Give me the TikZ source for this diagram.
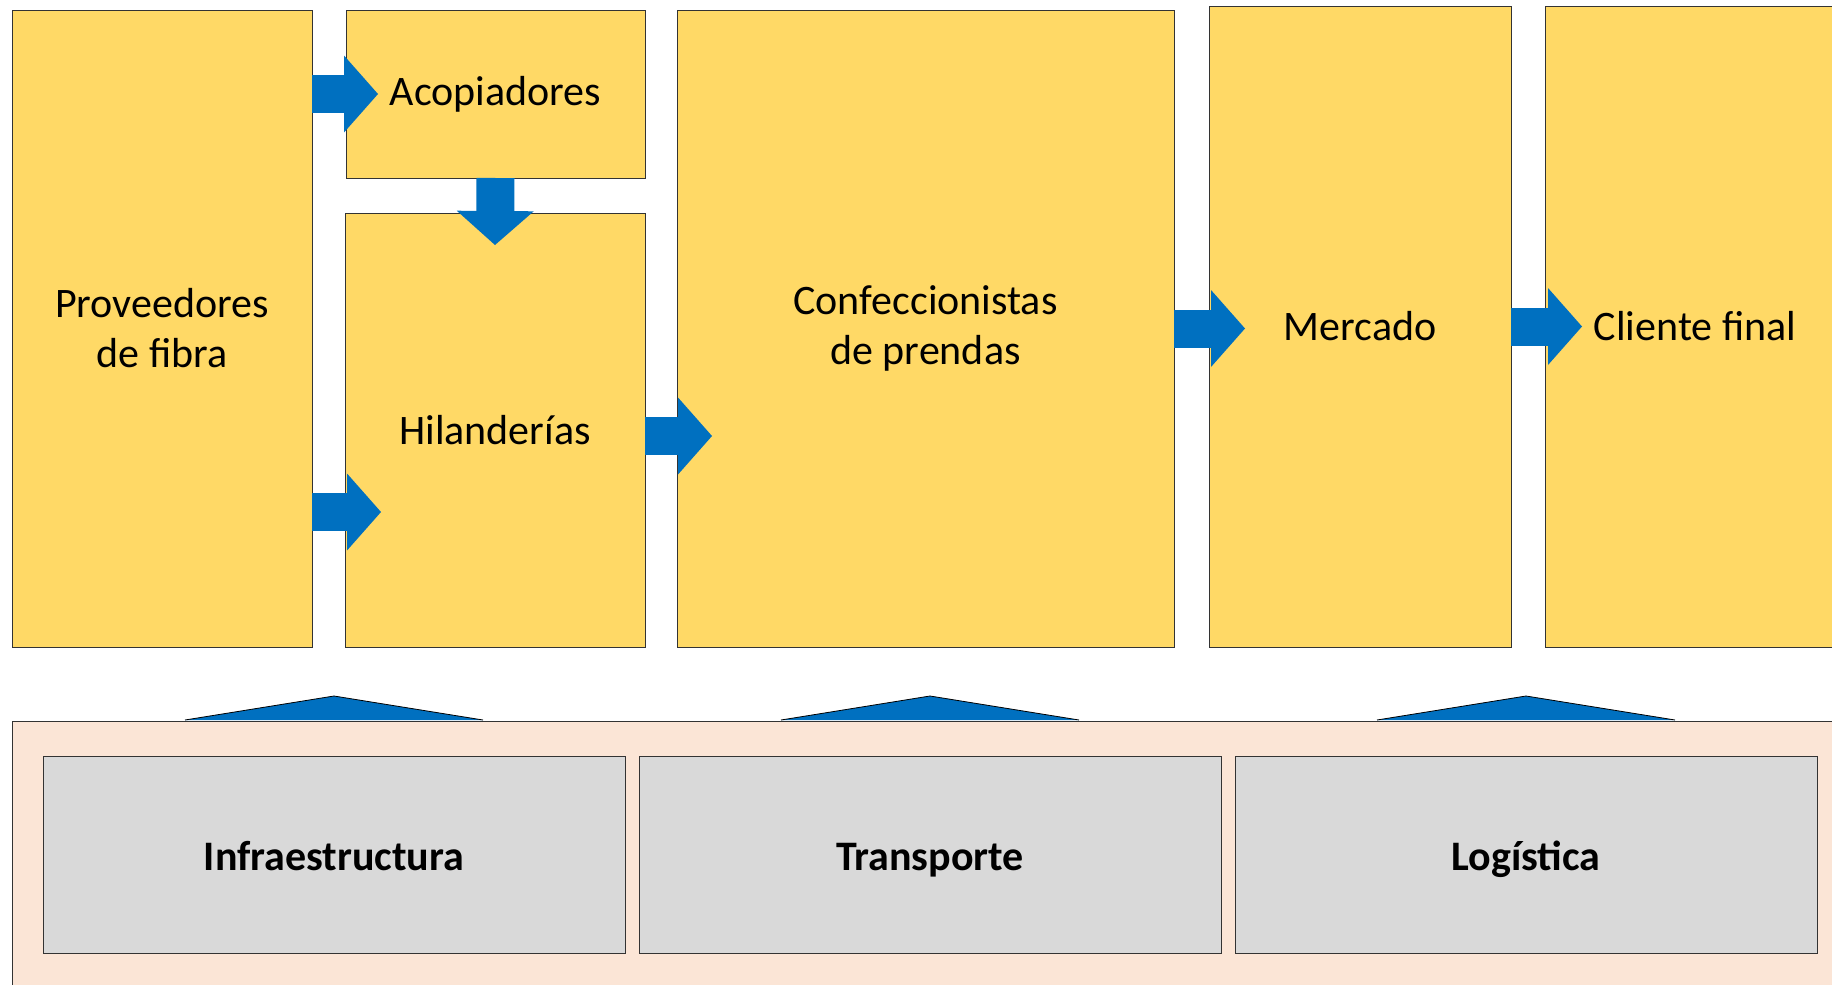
\documentclass[tikz,border=0pt]{standalone}
\usepackage{fontspec}
\setmainfont{Carlito}
\usetikzlibrary{
  arrows.meta,
  positioning,
  calc
}
\definecolor{SoftGold}{HTML}{FFD966}
\definecolor{FlowBlue}{HTML}{0070C0}
\definecolor{PaleGrey}{HTML}{D9D9D9}
\definecolor{BlushPeach}{HTML}{FBE5D6}
\tikzset{
  % Chain stage: yellow box, size given per node
  stage/.style={
    rectangle, draw=black!80, fill=SoftGold, line width=0.9pt,
    inner sep=0pt, outer sep=0pt, align=center,
    font=\fontsize{42}{50}\selectfont
  },
  % Support box in the lower band
  support/.style={
    rectangle, draw=black!80, fill=PaleGrey, line width=0.9pt,
    minimum width=582pt, minimum height=197pt,
    text height=38pt, text depth=7pt,
    inner sep=0pt, outer sep=0pt, align=center,
    font=\fontsize{42}{50}\selectfont\bfseries
  },
  % Lower band
  band/.style={
    rectangle, draw=black!80, fill=BlushPeach, line width=0.9pt,
    inner sep=0pt, outer sep=0pt
  },
  % Block arrow
  flow/.style={
    -{Triangle[length=34pt,width=77pt,line width=0pt]},
    line width=38pt, draw=FlowBlue
  },
  % Flat head over the band
  lift/.style={fill=FlowBlue, draw=black, line width=0.8pt}
}
\begin{document}
\begin{tikzpicture}[x=1pt, y=1pt, node distance=14pt]
  \useasboundingbox (0,0) rectangle (1832,-985);
  \clip (0,0) rectangle (1832,-985);

  % Lower band with its three boxes
  \node[band, anchor=north west, minimum width=1840pt, minimum height=280pt] (band) at (12,-721) {};
  \node[support, anchor=north west] (infra) at (43,-756) {Infraestructura};
  \node[support, right=of infra] (trans) {Transporte};
  \node[support, right=of trans] (logi)  {Logística};

  \foreach \s in {infra, trans, logi}
    \filldraw[lift] ($(\s.north |- band.north)+(-149pt,1pt)$) -- ++(149pt,24pt) -- ++(149pt,-24pt);

  % Chain of stages
  \node[stage, anchor=north west, minimum width=300pt, minimum height=637pt] (prov) at (12,-10) {Proveedores\\de fibra};
  \node[stage, anchor=north west, minimum width=299pt, minimum height=168pt] (acop) at ([xshift=34pt]prov.north east) {Acopiadores};
  \node[stage, anchor=south west, minimum width=300pt, minimum height=434pt] (hila) at ([xshift=33pt]prov.south east) {Hilanderías};
  \node[stage, anchor=north west, minimum width=497pt, minimum height=637pt] (conf) at ([xshift=32pt]acop.north east) {Confeccionistas\\de prendas};
  \node[stage, anchor=south west, minimum width=302pt, minimum height=641pt] (merc) at ([xshift=35pt]conf.south east) {Mercado};
  \node[stage, anchor=south west, minimum width=300pt, minimum height=641pt] (clie) at ([xshift=34pt]merc.south east) {Cliente final};

  % Flows
  \coordinate (hilain) at ([yshift=-82pt]hila.west);
  \draw[flow] (prov.east |- acop.west) -- ([xshift=32pt]acop.west);
  \draw[flow] (prov.east |- hilain) -- ([xshift=36pt]hilain);
  \draw[flow] (acop.south) -- ([yshift=-32pt]hila.north);
  \draw[flow] ([yshift=-6pt]hila.east) -- ($(hila.east -| conf.west)+(35pt,-6pt)$);
  \draw[flow] (conf.east) -- ($(conf.east -| merc.west)+(36pt,0)$);
  \draw[flow] (merc.east) -- ($(merc.east -| clie.west)+(37pt,0)$);
\end{tikzpicture}
\end{document}
